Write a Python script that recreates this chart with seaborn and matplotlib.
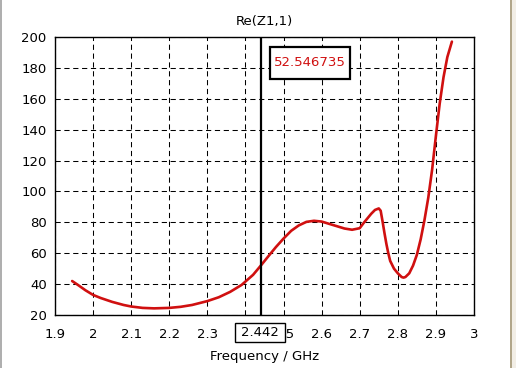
import matplotlib
matplotlib.use("Agg")
import matplotlib.pyplot as plt
import seaborn as sns
import numpy as np
import pandas as pd
from matplotlib.lines import Line2D
from matplotlib.patches import Rectangle
import matplotlib.transforms as mtransforms

# ---- data ----
freq = [1.945, 1.96, 1.98, 2.00, 2.02, 2.05, 2.08, 2.10, 2.13, 2.16, 2.20, 2.23,
        2.26, 2.30, 2.33, 2.36, 2.39, 2.42, 2.442, 2.46, 2.48, 2.50, 2.52, 2.54,
        2.56, 2.58, 2.60, 2.62, 2.64, 2.66, 2.68, 2.70, 2.71, 2.72, 2.73, 2.74,
        2.75, 2.755, 2.76, 2.765, 2.77, 2.775, 2.78, 2.79, 2.80, 2.81, 2.815,
        2.82, 2.83, 2.84, 2.85, 2.86, 2.87, 2.88, 2.89, 2.90, 2.91, 2.92, 2.93, 2.942]
re_z = [42, 39.5, 36, 33, 31, 28.5, 26.5, 25.5, 24.6, 24.3, 24.6, 25.3,
        26.5, 29, 31.5, 35, 39.5, 46, 52.5, 58, 64, 69.5, 74.5, 78,
        80.3, 81, 80.5, 79, 77.5, 76, 75.2, 76.2, 79.5, 82.5, 85.5, 88,
        89, 87.5, 80.5, 73, 66, 60, 55, 50, 47, 44.6, 44.2,
        44.6, 47, 52, 59, 69, 81.5, 96, 114, 136, 157, 174, 187, 197]
x_ticks = [1.9, 2.0, 2.1, 2.2, 2.3, 2.4, 2.5, 2.6, 2.7, 2.8, 2.9, 3.0]
x_tick_labels = ["1.9", "2", "2.1", "2.2", "2.3", "2.4", "2.5", "2.6", "2.7", "2.8", "2.9", "3"]
y_ticks = [20, 40, 60, 80, 100, 120, 140, 160, 180, 200]
marker_freq = 2.442
marker_label = "2.442"
marker_value = "52.546735"
title = "Re(Z1,1)"
xlabel = "Frequency / GHz"

df = pd.DataFrame({"freq": freq, "re": re_z})

sns.set_style("white")
plt.rcParams["font.family"] = ["DejaVu Sans"]
plt.rcParams["font.size"] = 9.5

fig = plt.figure(figsize=(5.16, 3.68), dpi=100)
ax = fig.add_axes([55/516, 1-315/368, 419/516, 278/368])

red = "#d01010"
sns.lineplot(data=df, x="freq", y="re", ax=ax, color=red, lw=1.9,
             sort=False, estimator=None, zorder=4)

ax.set_xlim(1.9, 3.0)
ax.set_ylim(20, 200)
ax.set_xticks(x_ticks)
ax.set_xticklabels(x_tick_labels)
ax.set_yticks(y_ticks)
ax.grid(True, color="black", linestyle=(0, (5, 3.5)), linewidth=0.75)
for s in ax.spines.values():
    s.set_color("black")
    s.set_linewidth(1.0)
ax.tick_params(direction="inout", length=6, width=1.0, colors="black",
               labelsize=9.5)
ax.tick_params(axis="x", pad=6)
ax.tick_params(axis="y", pad=3)
ax.set_title(title, fontsize=9.5, pad=9, color="black")
ax.set_xlabel(xlabel, fontsize=9.5, labelpad=7, color="black")
ax.set_ylabel("")

# marker line
ax.axvline(marker_freq, color="black", lw=1.6, zorder=5)

# value box
ax.add_patch(Rectangle((215/419, 236/278), 80/419, 32/278, transform=ax.transAxes,
                       facecolor="white", edgecolor="black", lw=1.6, zorder=6,
                       clip_on=False))
ax.text(255/419, 252/278, marker_value, transform=ax.transAxes, color=red,
        ha="center", va="center", fontsize=9.5, zorder=7)

# marker x label box (covers the 2.4 tick label as in the reference)
trans = mtransforms.blended_transform_factory(ax.transData, ax.transAxes)
ax.add_patch(Rectangle((marker_freq - 26/381, -27/278), 49.5/381, 19/278,
                       transform=trans, facecolor="white", edgecolor="black",
                       lw=1.0, zorder=8, clip_on=False))
ax.text(marker_freq - 1.2/381, -17.5/278, marker_label, transform=trans, ha="center",
        va="center", fontsize=9.5, color="black", zorder=9, clip_on=False)

# window borders
fig.add_artist(Line2D([1/516, 1/516], [0, 1], transform=fig.transFigure,
                      color="#a0a0a0", lw=1.2))
fig.add_artist(Rectangle((510/516, 0), 6/516, 1, transform=fig.transFigure,
                         facecolor="#f2eee6", edgecolor="none"))
fig.add_artist(Line2D([511/516, 511/516], [0, 1], transform=fig.transFigure,
                      color="#b0a488", lw=1.4))

fig.savefig("out.png", dpi=100)
